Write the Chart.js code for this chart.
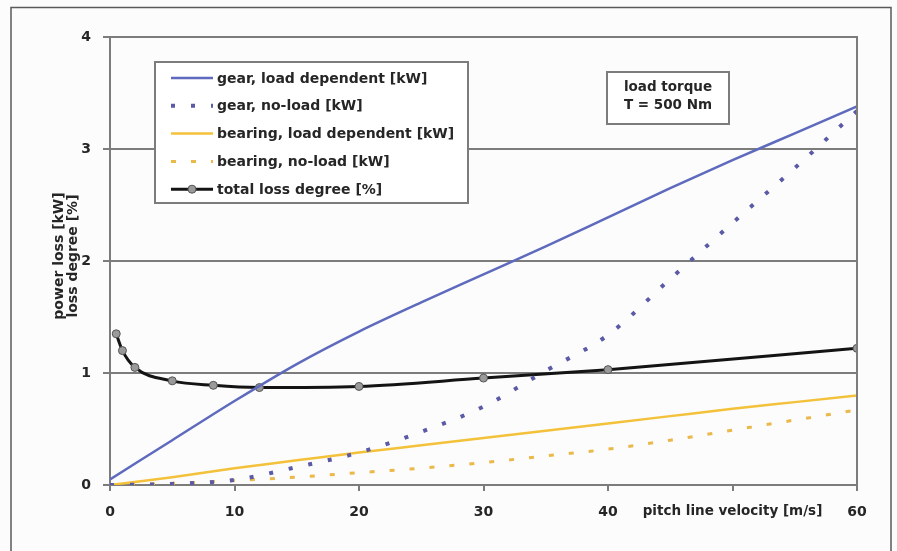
<!DOCTYPE html>
<html lang="en">
<head>
<meta charset="UTF-8">
<title>Power loss vs pitch line velocity</title>
<script src="https://cdn.jsdelivr.net/npm/chart.js@4.4.1/dist/chart.umd.min.js"></script>
<style>
  html, body { margin: 0; padding: 0; background: #fcfcfc; }
  #wrap { width: 897px; height: 551px; position: relative; }
  canvas { display: block; }
</style>
</head>
<body>
<div id="wrap"><canvas id="lossChart" width="897" height="551"></canvas></div>
<script>
// values
const velocity      = [0, 5, 10, 15, 20, 25, 30, 35, 40, 45, 50, 55, 60];
const gearLoad      = [0.05, 0.4, 0.75, 1.08, 1.37, 1.63, 1.88, 2.13, 2.39, 2.65, 2.9, 3.14, 3.38];
const gearNoLoad    = [0, 0.01, 0.045, 0.16, 0.29, 0.475, 0.7, 1.02, 1.34, 1.84, 2.34, 2.83, 3.34];
const bearingLoad   = [0, 0.07, 0.15, 0.22, 0.29, 0.355, 0.42, 0.485, 0.55, 0.615, 0.68, 0.74, 0.8];
const bearingNoLoad = [0, 0.015, 0.04, 0.07, 0.11, 0.15, 0.2, 0.26, 0.32, 0.4, 0.49, 0.58, 0.67];

const lossVelocity  = [0.5, 1, 2, 5, 8.3, 12, 20, 30, 40, 60];
const lossDegree    = [1.35, 1.2, 1.05, 0.93, 0.89, 0.87, 0.88, 0.955, 1.03, 1.22];

const seriesNames = [
  'gear, load dependent [kW]',
  'gear, no-load [kW]',
  'bearing, load dependent [kW]',
  'bearing, no-load [kW]',
  'total loss degree [%]'
];
const xTicks = [0, 10, 20, 30, 40, 60];
const yTicks = [0, 1, 2, 3, 4];
const xTitle = 'pitch line velocity [m/s]';
const yTitle = ['power loss [kW]', 'loss degree [%]'];
const noteLines = ['load torque', 'T = 500 Nm'];

const FONT = '"DejaVu Sans", Verdana, sans-serif';
const GRID = '#7c7c7c';
const TXT = '#262626';

const pts = (xs, ys) => xs.map((x, i) => ({ x: x, y: ys[i] }));

// frame, axis titles, legend box and note box
const decor = {
  id: 'decor',
  beforeDraw(chart) {
    const c = chart.ctx;
    c.save();
    c.fillStyle = '#fcfcfc';
    c.fillRect(0, 0, chart.width, chart.height);
    c.restore();
  },
  afterDraw(chart) {
    const c = chart.ctx;
    const a = chart.chartArea;
    const xs = chart.scales.x;
    c.save();

    // outer frame (no bottom edge)
    c.strokeStyle = '#5a5a5a';
    c.lineWidth = 1.5;
    c.beginPath();
    c.moveTo(11, 551); c.lineTo(11, 7.5); c.lineTo(891, 7.5); c.lineTo(891, 551);
    c.stroke();

    // right edge of plot area
    c.strokeStyle = GRID;
    c.lineWidth = 2;
    c.beginPath();
    c.moveTo(a.right, a.top - 1); c.lineTo(a.right, a.bottom + 1);
    c.stroke();

    // y title, two lines, rotated
    c.fillStyle = TXT;
    c.font = 'bold 14px ' + FONT;
    c.textAlign = 'center';
    c.textBaseline = 'middle';
    c.save();
    c.translate(66, 256);
    c.rotate(-Math.PI / 2);
    c.fillText(yTitle[0], 0, -7);
    c.fillText(yTitle[1], 0, 7);
    c.restore();

    // x title sits in the tick label row, in place of "50"
    c.font = 'bold 13.5px ' + FONT;
    c.fillText(xTitle, xs.getPixelForValue(50), 511);

    // note box
    c.fillStyle = '#ffffff';
    c.fillRect(607, 72, 122, 52);
    c.strokeStyle = GRID;
    c.lineWidth = 2;
    c.strokeRect(607, 72, 122, 52);
    c.fillStyle = TXT;
    c.font = 'bold 13.5px ' + FONT;
    c.fillText(noteLines[0], 668, 87);
    c.fillText(noteLines[1], 668, 105);

    // legend box
    c.fillStyle = '#ffffff';
    c.fillRect(155, 62, 313, 141);
    c.strokeRect(155, 62, 313, 141);
    c.font = 'bold 14px ' + FONT;
    c.textAlign = 'left';
    chart.data.datasets.forEach((ds, i) => {
      const y = 78 + i * 27.8;
      c.save();
      c.strokeStyle = ds.borderColor;
      c.lineWidth = ds.borderWidth;
      c.setLineDash(ds.borderDash || []);
      c.beginPath();
      c.moveTo(171, y); c.lineTo(213, y);
      c.stroke();
      if (ds.pointRadius) {
        c.setLineDash([]);
        c.fillStyle = ds.pointBackgroundColor;
        c.strokeStyle = ds.pointBorderColor;
        c.lineWidth = 1;
        c.beginPath();
        c.arc(192, y, ds.pointRadius, 0, Math.PI * 2);
        c.fill(); c.stroke();
      }
      c.restore();
      c.fillStyle = TXT;
      c.fillText(ds.label, 217, y + 1);
    });
    c.restore();
  }
};

new Chart(document.getElementById('lossChart'), {
  type: 'line',
  data: {
    datasets: [
      {
        label: seriesNames[0],
        data: pts(velocity, gearLoad),
        borderColor: '#5e6abd',
        borderWidth: 2.5,
        pointRadius: 0,
        cubicInterpolationMode: 'monotone'
      },
      {
        label: seriesNames[1],
        data: pts(velocity, gearNoLoad),
        borderColor: '#5a5aa6',
        borderWidth: 4,
        borderDash: [4, 16],
        pointRadius: 0,
        cubicInterpolationMode: 'monotone'
      },
      {
        label: seriesNames[2],
        data: pts(velocity, bearingLoad),
        borderColor: '#f3c13a',
        borderWidth: 2.5,
        pointRadius: 0,
        cubicInterpolationMode: 'monotone'
      },
      {
        label: seriesNames[3],
        data: pts(velocity, bearingNoLoad),
        borderColor: '#ebb84a',
        borderWidth: 3,
        borderDash: [5, 15],
        pointRadius: 0,
        cubicInterpolationMode: 'monotone'
      },
      {
        label: seriesNames[4],
        data: pts(lossVelocity, lossDegree),
        borderColor: '#141414',
        borderWidth: 3,
        pointRadius: 4,
        pointBackgroundColor: '#9a9a9a',
        pointBorderColor: '#555555',
        pointBorderWidth: 1,
        cubicInterpolationMode: 'monotone'
      }
    ]
  },
  options: {
    responsive: false,
    animation: false,
    devicePixelRatio: 1,
    layout: { padding: { top: 37, right: 40, left: 0, bottom: 0 } },
    plugins: {
      legend: { display: false },
      tooltip: { enabled: false }
    },
    scales: {
      x: {
        type: 'linear',
        min: 0,
        max: 60,
        afterFit: s => { s.height = 66; },
        afterBuildTicks: s => { s.ticks = [0, 10, 20, 30, 40, 50, 60].map(v => ({ value: v })); },
        grid: { drawOnChartArea: false, drawTicks: true, tickLength: 6, color: GRID, lineWidth: 2 },
        border: { color: GRID, width: 2 },
        ticks: {
          padding: 13,
          color: TXT,
          font: { family: FONT, size: 14, weight: 'bold' },
          maxRotation: 0,
          callback: v => xTicks.includes(v) ? String(v) : ''
        }
      },
      y: {
        min: 0,
        max: 4,
        afterFit: s => { s.width = 110; },
        afterBuildTicks: s => { s.ticks = yTicks.map(v => ({ value: v })); },
        grid: { color: GRID, lineWidth: 2, drawTicks: true, tickLength: 7 },
        border: { color: GRID, width: 2 },
        ticks: {
          padding: 12,
          color: TXT,
          font: { family: FONT, size: 14, weight: 'bold' }
        }
      }
    }
  },
  plugins: [decor]
});
</script>
</body>
</html>
